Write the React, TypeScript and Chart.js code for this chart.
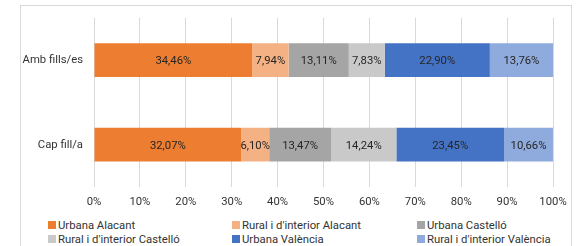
import React, { useEffect, useRef } from "react";
import { Chart, registerables } from "chart.js";

Chart.register(...registerables);

const categories = ["Amb fills/es", "Cap fill/a"];
const seriesNames = [
  "Urbana Alacant",
  "Rural i d'interior Alacant",
  "Urbana Castelló",
  "Rural i d'interior Castelló",
  "Urbana València",
  "Rural i d'interior València",
];
const urbanaAlacant = [34.46, 32.07];
const ruralAlacant = [7.94, 6.1];
const urbanaCastello = [13.11, 13.47];
const ruralCastello = [7.83, 14.24];
const urbanaValencia = [22.9, 23.45];
const ruralValencia = [13.76, 10.66];
const seriesColors = ["#ED7D31", "#F4B183", "#A5A5A5", "#C9C9C9", "#4472C4", "#8FAADC"];
const xTicks = [0, 10, 20, 30, 40, 50, 60, 70, 80, 90, 100];

const FONT = "Roboto, 'Noto Sans', sans-serif";
const TEXT = "#333333";
const LABEL = "#262626";
const FS = 11.3;

const fmt = (v: number) => v.toFixed(2).replace(".", ",") + "%";

const labelPlugin = {
  id: "segLabels",
  afterDatasetsDraw(chart: any) {
    const ctx = chart.ctx;
    ctx.save();
    ctx.font = `${FS}px ${FONT}`;
    ctx.fillStyle = LABEL;
    ctx.textAlign = "center";
    ctx.textBaseline = "middle";
    chart.data.datasets.forEach((ds: any, i: number) => {
      const meta = chart.getDatasetMeta(i);
      meta.data.forEach((el: any, j: number) => {
        const p = el.getProps(["x", "y", "base"], true);
        ctx.fillText(fmt(ds.data[j]), (p.x + p.base) / 2, p.y + 1);
      });
    });
    ctx.restore();
  },
};

export default function App() {
  const ref = useRef<HTMLCanvasElement>(null);
  useEffect(() => {
    if (!ref.current) return;
    const all = [urbanaAlacant, ruralAlacant, urbanaCastello, ruralCastello, urbanaValencia, ruralValencia];
    const chart = new Chart(ref.current, {
      type: "bar",
      data: {
        labels: categories,
        datasets: all.map((d, i) => ({
          label: seriesNames[i],
          data: d,
          backgroundColor: seriesColors[i],
          borderWidth: 0,
          categoryPercentage: 0.4,
          barPercentage: 1,
        })),
      },
      options: {
        indexAxis: "y",
        animation: false,
        responsive: false,
        devicePixelRatio: 1,
        layout: { padding: { top: 11, right: 31, left: 0, bottom: 0 } },
        plugins: { legend: { display: false }, tooltip: { enabled: false } },
        scales: {
          x: {
            stacked: true,
            min: 0,
            max: 100,
            afterBuildTicks: (s: any) => {
              s.ticks = xTicks.map((v) => ({ value: v }));
            },
            afterFit: (s: any) => {
              s.height = 23;
            },
            ticks: {
              callback: (v: any) => v + "%",
              color: TEXT,
              font: { family: FONT, size: FS },
              padding: 8,
              maxRotation: 0,
            },
            grid: { color: "#D9D9D9", lineWidth: 1, drawTicks: false },
            border: { display: false },
          },
          y: {
            stacked: true,
            afterFit: (s: any) => {
              s.width = 94;
            },
            ticks: {
              color: TEXT,
              font: { family: FONT, size: FS },
              padding: 11,
            },
            grid: { display: false, drawTicks: false },
            border: { display: false },
          },
        },
      },
      plugins: [labelPlugin],
    } as any);
    return () => chart.destroy();
  }, []);

  const legendPos = [
    [48, 225],
    [232, 225],
    [417, 225],
    [48, 239],
    [232, 239],
    [417, 239],
  ];

  return (
    <div style={{ position: "absolute", left: 0, top: 0, width: 584, height: 246, background: "#fff", overflow: "hidden" }}>
      <div
        style={{
          position: "absolute",
          left: 20,
          top: 5,
          width: 552,
          height: 260,
          border: "1px solid #D9D9D9",
          boxSizing: "border-box",
        }}
      />
      <canvas ref={ref} width={584} height={210} style={{ position: "absolute", left: 0, top: 0 }} />
      {seriesNames.map((n, i) => (
        <div
          key={n}
          style={{
            position: "absolute",
            left: legendPos[i][0],
            top: legendPos[i][1] - 8,
            height: 16,
            display: "flex",
            alignItems: "center",
            fontFamily: FONT,
            fontSize: FS,
            color: TEXT,
            whiteSpace: "nowrap",
          }}
        >
          <span style={{ width: 8, height: 8, background: seriesColors[i], marginRight: 2, display: "inline-block" }} />
          {n}
        </div>
      ))}
    </div>
  );
}
